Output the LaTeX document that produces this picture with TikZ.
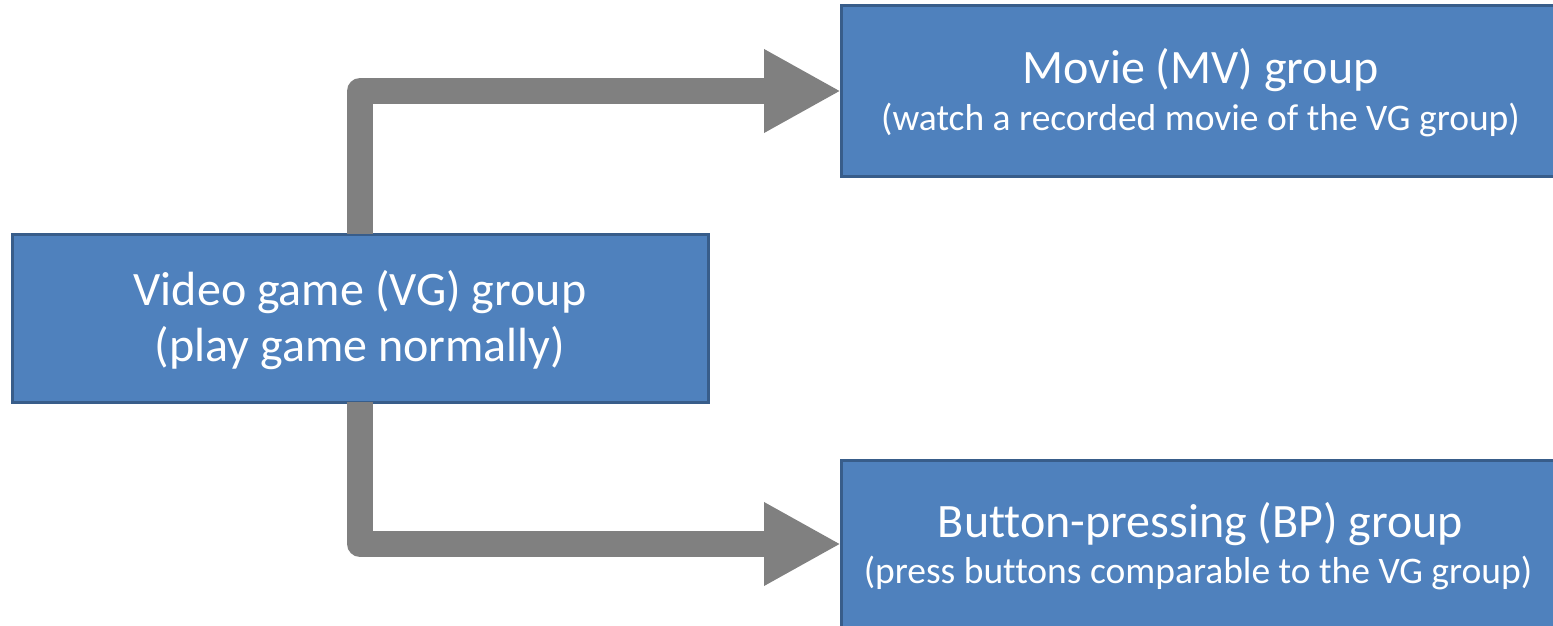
\documentclass[tikz,border=0pt]{standalone}
\usepackage{fontspec}
\setmainfont[Ligatures=NoCommon]{Carlito}
\usetikzlibrary{arrows.meta}

\definecolor{boxfill}{HTML}{4F81BD}
\definecolor{boxline}{HTML}{385D8A}
\definecolor{flowgray}{HTML}{808080}

\tikzset{
  groupbox/.style={draw=boxline, fill=boxfill, line width=3pt,
    inner sep=0pt, outer sep=0pt},
  titletext/.style={text=white, inner sep=0pt, anchor=base,
    font=\fontsize{48}{58}\selectfont},
  subtext/.style={text=white, inner sep=0pt, anchor=base,
    font=\fontsize{37.5}{45}\selectfont},
  flow/.style={draw=flowgray, line width=26pt, line join=round,
    -{Triangle[length=77pt,width=78pt]}}
}

\begin{document}
\begin{tikzpicture}[x=1pt,y=-1pt]
  \useasboundingbox (0,0) rectangle (1553,626);
  \clip (0,0) rectangle (1553,626);

  % experimental groups
  \node[groupbox, minimum width=696pt, minimum height=168pt] (vg) at (360,318) {};
  \node[groupbox, minimum width=719pt, minimum height=170pt] (mv) at (1200.5,91) {};
  \node[groupbox, minimum width=719pt, minimum height=168pt] (bp) at (1200.5,544) {};

  % group labels
  \node[titletext] (vgtitle) at (360,305) {Video game (VG) group};
  \node[titletext] (vgsub)   at (360,361) {(play game normally)};
  \node[titletext] (mvtitle) at (1200.5,84) {Movie (MV) group};
  \node[subtext]   (mvsub)   at (1200.5,130) {(watch a recorded movie of the VG group)};
  \node[titletext] (bptitle) at (1200.5,537) {Button-pressing (BP) group};
  \node[subtext]   (bpsub)   at (1198,583) {(press buttons comparable to the VG group)};

  % derived conditions
  \draw[flow] (vg.north) |- (mv.west);
  \draw[flow] (vg.south) |- (bp.west);
\end{tikzpicture}
\end{document}
